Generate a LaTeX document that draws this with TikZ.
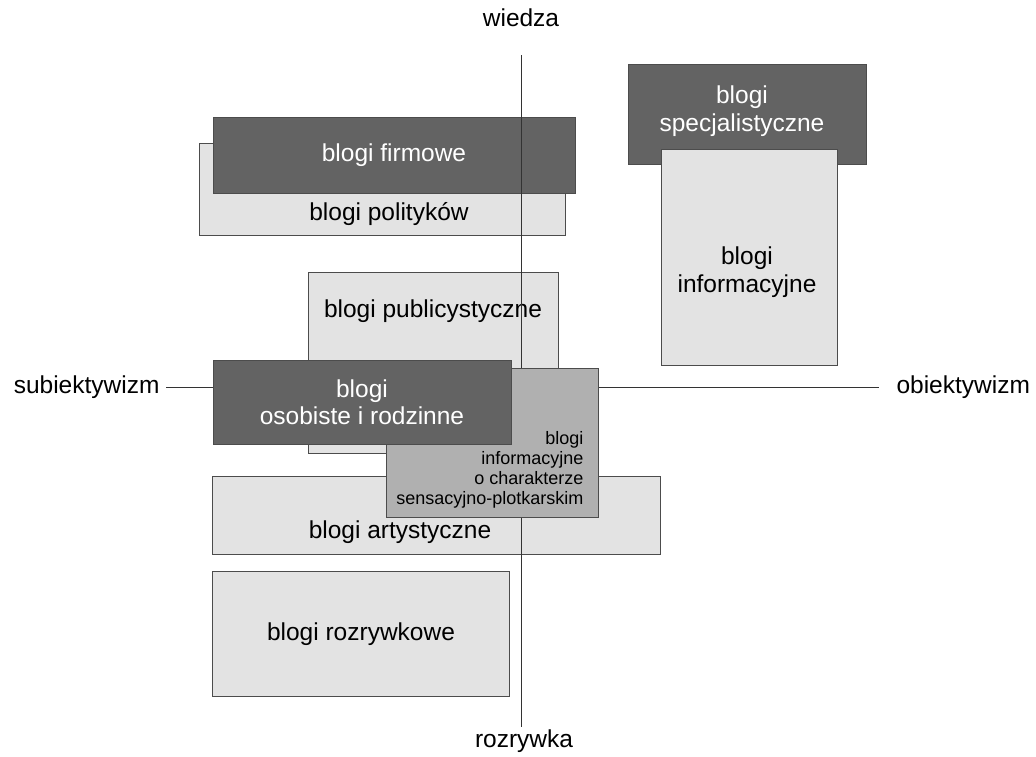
\documentclass[tikz,border=0pt]{standalone}
\usepackage{fontspec}
\setmainfont{Liberation Sans}

\begin{document}
\begin{tikzpicture}[x=1pt,y=-1pt,
        box/.style={draw=black!70, line width=0.6pt, inner sep=0pt},
        light/.style={box, fill=black!11},
        dark/.style={box, fill=black!61, text=white},
        medium/.style={box, fill=black!31},
        txt/.style={font=\fontsize{24.5}{27.5}\selectfont, align=center},
        small/.style={font=\fontsize{18}{20}\selectfont, align=right}]

        \useasboundingbox (0,0) rectangle (1036,756);

        % upper left
        \node[light, minimum width=366pt, minimum height=92pt] (polit) at (382,189) {};
        \node[txt] (politt) at (389,214) {blogi polityków};
        \node[dark, txt, minimum width=362pt, minimum height=76pt] (firm) at (394,155) {blogi firmowe};

        % upper right
        \node[dark, minimum width=238pt, minimum height=100pt] (spec) at (747,114) {};
        \node[txt, text=white] (spect) at (742,111) {blogi\\specjalistyczne};
        \node[light, minimum width=176pt, minimum height=216pt] (info) at (749,257) {};
        \node[txt] (infot) at (747,272) {blogi\\informacyjne};

        % middle and bottom
        \node[light, minimum width=250pt, minimum height=181pt] (publ) at (433,363) {};
        \node[txt] (publt) at (433,311) {blogi publicystyczne};
        \node[light, minimum width=448pt, minimum height=78pt] (arty) at (436,515) {};
        \node[txt] (artyt) at (400,532) {blogi artystyczne};
        \node[light, txt, minimum width=297pt, minimum height=125pt] (rozr) at (361,634) {blogi rozrywkowe};

        % axes
        \node[txt] (wiedza) at (521,18) {wiedza};
        \node[txt] (rozrywka) at (524,741) {rozrywka};
        \node[txt, anchor=east] (subiekt) at (163,387) {subiektywizm};
        \node[txt, anchor=west] (obiekt) at (893,387) {obiektywizm};
        \coordinate (top) at (521,55);
        \coordinate (bottom) at (521,727);
        \draw[black!80, line width=0.8pt] (top) -- (bottom);
        \draw[black!80, line width=0.8pt] ([xshift=3pt]subiekt.east) -- ([xshift=-14pt]obiekt.west);

        \node[medium, minimum width=212pt, minimum height=149pt] (sens) at (492,443) {};
        \node[small, anchor=south east] (senst) at (587,512) {blogi\\informacyjne\\o charakterze\\sensacyjno-plotkarskim};
        \node[dark, txt, minimum width=298pt, minimum height=84pt] (osob) at (362,402) {blogi\\osobiste i rodzinne};

\end{tikzpicture}
\end{document}
